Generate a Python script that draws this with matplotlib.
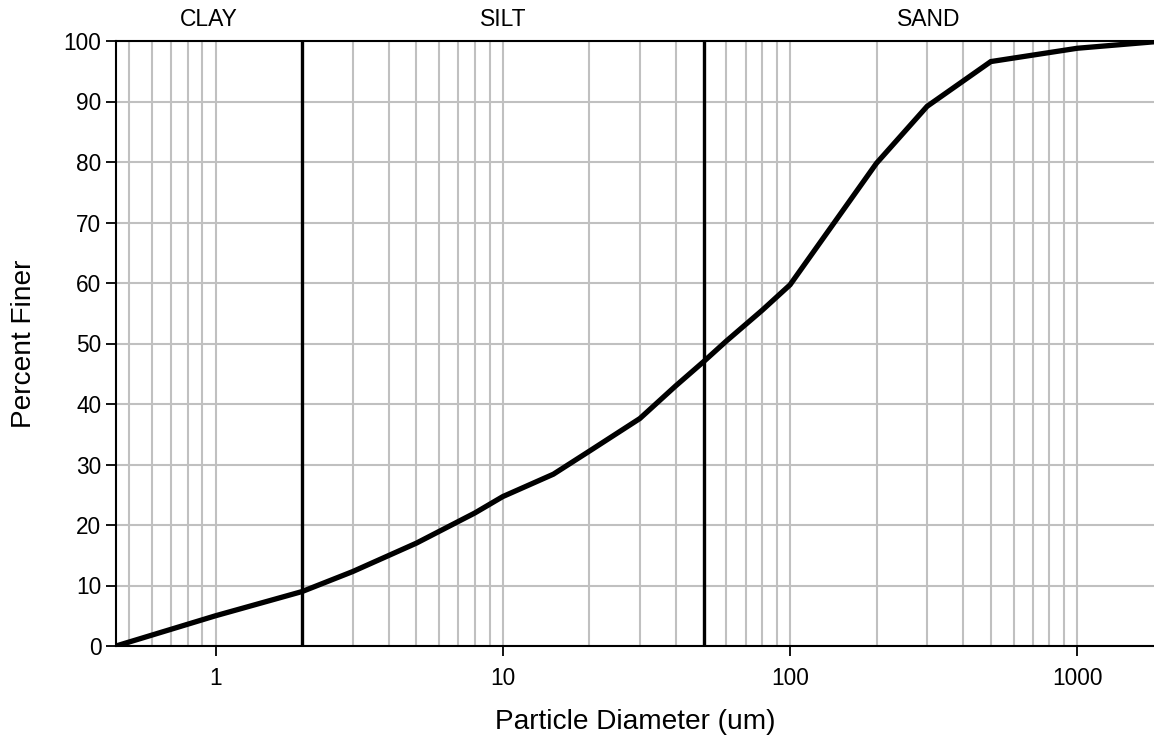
import matplotlib
matplotlib.use("Agg")
import matplotlib.pyplot as plt
from matplotlib.ticker import LogLocator, FixedLocator, FixedFormatter, NullFormatter

# particle size distribution (um vs cumulative percent finer)
diameter_um = [0.45, 1, 2, 3, 5, 8, 10, 15, 20, 30, 40, 50, 60, 80, 100, 200, 300, 500, 1000, 2000]
percent_finer = [0, 5.0, 9.0, 12.3, 17.0, 22.0, 24.7, 28.4, 32.2, 37.6, 43.0, 47.0, 50.4, 55.5,
                 59.7, 79.8, 89.2, 96.6, 98.8, 100]

# class boundaries and labels
boundaries_um = [2, 50]
classes = ["CLAY", "SILT", "SAND"]
x_ticks = [1, 10, 100, 1000]
x_tick_labels = ["1", "10", "100", "1000"]
y_ticks = list(range(0, 101, 10))

X_MIN, X_MAX = 0.45, 1850

plt.rcParams["font.family"] = ["Liberation Sans", "DejaVu Sans"]

fig = plt.figure(figsize=(11.54, 7.4), dpi=100)
ax = fig.add_axes([116 / 1154, 1 - 646 / 740, 1 - 116 / 1154, (646 - 41) / 740])

ax.set_xscale("log")
ax.set_xlim(X_MIN, X_MAX)
ax.set_ylim(0, 100)

grid_kw = dict(color="#c0c0c0", linewidth=1.5)
ax.xaxis.set_major_locator(FixedLocator(x_ticks))
ax.xaxis.set_major_formatter(FixedFormatter(x_tick_labels))
ax.xaxis.set_minor_locator(LogLocator(base=10, subs=range(2, 10)))
ax.xaxis.set_minor_formatter(NullFormatter())
ax.set_yticks(y_ticks)
ax.grid(True, which="major", axis="both", **grid_kw)
ax.grid(True, which="minor", axis="x", **grid_kw)
ax.set_axisbelow(True)

for b in boundaries_um:
    ax.axvline(b, color="black", linewidth=2.4, zorder=3)

ax.plot(diameter_um, percent_finer, color="black", linewidth=3.8, zorder=4,
        solid_joinstyle="miter")

# class labels centred (in log space) over each region
edges = [X_MIN] + boundaries_um + [X_MAX]
for name, lo, hi in zip(classes, edges[:-1], edges[1:]):
    ax.text((lo * hi) ** 0.5, 101.6, name, ha="center", va="bottom", fontsize=16.5)

ax.tick_params(axis="both", which="major", direction="out", length=7, width=1.3,
               labelsize=16.3, colors="black")
ax.tick_params(axis="x", which="minor", length=0)
ax.tick_params(axis="x", pad=8)
ax.spines["right"].set_visible(False)
for s in ("left", "bottom", "top"):
    ax.spines[s].set_linewidth(1.5)

ax.set_xlabel("Particle Diameter (um)", fontsize=20.2, labelpad=14)
ax.set_ylabel("Percent Finer", fontsize=20.2, labelpad=19)

fig.savefig("out.png", dpi=100)
